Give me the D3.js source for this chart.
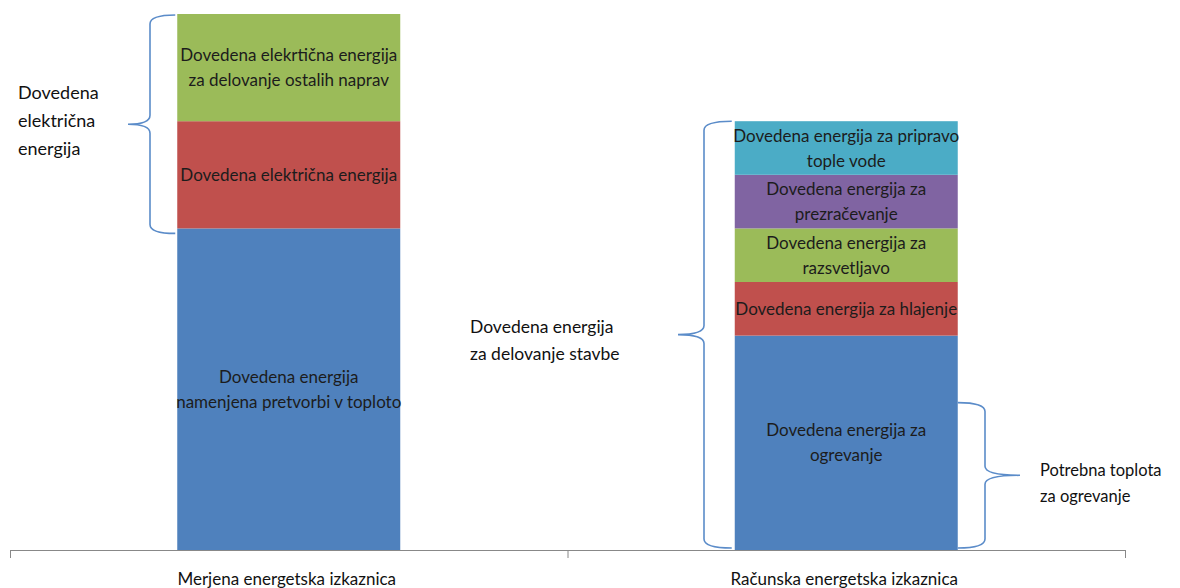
<!DOCTYPE html>
<html><head><meta charset="utf-8">
<script src="https://cdn.jsdelivr.net/npm/d3@7"></script>
<style>body{margin:0;background:#fff}svg{display:block}text{font-family:Lato,"Open Sans",sans-serif}</style>
</head><body>
<svg id="c" width="1180" height="588"></svg>
<script>
const categories = ["Merjena energetska izkaznica", "Računska energetska izkaznica"];
const measuredValues = [6, 2, 2];
const measuredLabels = [
  ["Dovedena energija", "namenjena pretvorbi v toploto"],
  ["Dovedena električna energija"],
  ["Dovedena elekrtična energija", "za delovanje ostalih naprav"]
];
const measuredColors = ["#4F81BD", "#C0504D", "#9BBB59"];
const calcValues = [4, 1, 1, 1, 1];
const calcLabels = [
  ["Dovedena energija za", "ogrevanje"],
  ["Dovedena energija za hlajenje"],
  ["Dovedena energija za", "razsvetljavo"],
  ["Dovedena energija  za", "prezračevanje"],
  ["Dovedena energija za pripravo", "tople vode"]
];
const calcColors = ["#4F81BD", "#C0504D", "#9BBB59", "#8064A2", "#4BACC6"];
// braces: [category index, from value, to value, side, label lines]
const braces = [
  {cat: 0, from: 6, to: 10, side: "left", label: ["Dovedena", "električna", "energija"]},
  {cat: 1, from: 0, to: 8, side: "left", label: ["Dovedena energija", "za delovanje stavbe"]},
  {cat: 1, from: 0, to: 2.75, side: "right", label: ["Potrebna toplota", "za ogrevanje"]}
];

const svg = d3.select("#c");
const x = d3.scaleBand().domain(categories).range([10, 1125]).paddingInner(0).paddingOuter(0);
const y = d3.scaleLinear().domain([0, 10]).range([550, 14]);
const barW = x.bandwidth() * 0.4;
const barX = c => x(c) + (x.bandwidth() - barW) / 2;

const stacks = [
  {vals: measuredValues, labels: measuredLabels, colors: measuredColors},
  {vals: calcValues, labels: calcLabels, colors: calcColors}
];

stacks.forEach((s, i) => {
  const cat = categories[i];
  let acc = 0;
  const segs = s.vals.map((v, j) => { const seg = {y0: acc, y1: acc + v, label: s.labels[j], color: s.colors[j]}; acc += v; return seg; });
  const g = svg.append("g");
  g.selectAll("rect").data(segs).join("rect")
    .attr("x", barX(cat)).attr("width", barW)
    .attr("y", d => y(d.y1)).attr("height", d => y(d.y0) - y(d.y1))
    .attr("fill", d => d.color);
  segs.forEach(d => {
    const cy = (y(d.y0) + y(d.y1)) / 2;
    const lh = 25;
    const t = g.append("text").attr("text-anchor", "middle").attr("fill", "#1c1c1c")
      .style("font-size", "17px");
    d.label.forEach((ln, k) => {
      t.append("tspan").attr("x", barX(cat) + barW / 2)
        .attr("y", cy + (k - (d.label.length - 1) / 2) * lh + 6).text(ln);
    });
  });
});

// axis
const axis = svg.append("g").attr("stroke", "#888").attr("stroke-width", 1);
axis.append("line").attr("x1", x.range()[0]).attr("x2", x.range()[1]).attr("y1", 550.5).attr("y2", 550.5);
const tickXs = [x.range()[0], ...categories.slice(1).map(c => x(c)), x.range()[1]];
tickXs.forEach(t => axis.append("line").attr("x1", t + 0.5).attr("x2", t + 0.5).attr("y1", 550).attr("y2", 558));
categories.forEach(c => {
  svg.append("text").attr("x", x(c) + x.bandwidth() / 2 - 2).attr("y", 585)
    .attr("text-anchor", "middle").attr("fill", "#111").style("font-size", "17px").text(c);
});

// braces
function bracePath(xe, xv, xt, yt, yb) {
  const ym = (yt + yb) / 2, r = 9;
  return `M${xe},${yt} Q${xv},${yt} ${xv},${yt + r} L${xv},${ym - r} Q${xv},${ym} ${xt},${ym}`
    + ` Q${xv},${ym} ${xv},${ym + r} L${xv},${yb - r} Q${xv},${yb} ${xe},${yb}`;
}
const braceGeo = [
  {xe: barX(categories[0]) - 2, xv: 150, xt: 128, lx: 18, dy: 28, anchorY: -31, fs: 18},
  {xe: barX(categories[1]) - 3, xv: 704, xt: 678, lx: 470, dy: 27, anchorY: -8, fs: 17.5},
  {xe: barX(categories[1]) + barW, xv: 985, xt: 1020, lx: 1040, dy: 26, anchorY: -5, fs: 16.5}
];
braces.forEach((b, i) => {
  const g = braceGeo[i];
  const yt = y(b.to) + (i === 0 ? 1 : 0), yb = y(b.from) - (i === 0 ? -5 : 2);
  svg.append("path").attr("d", bracePath(g.xe, g.xv, g.xt, yt, yb))
    .attr("fill", "none").attr("stroke", "#5B8CC9").attr("stroke-width", 1.6);
  const ym = (yt + yb) / 2;
  const t = svg.append("text").attr("fill", "#111").style("font-size", g.fs + "px");
  b.label.forEach((ln, k) => {
    t.append("tspan").attr("x", g.lx).attr("y", ym + g.anchorY + k * g.dy + 6).text(ln);
  });
});
</script>
</body></html>
